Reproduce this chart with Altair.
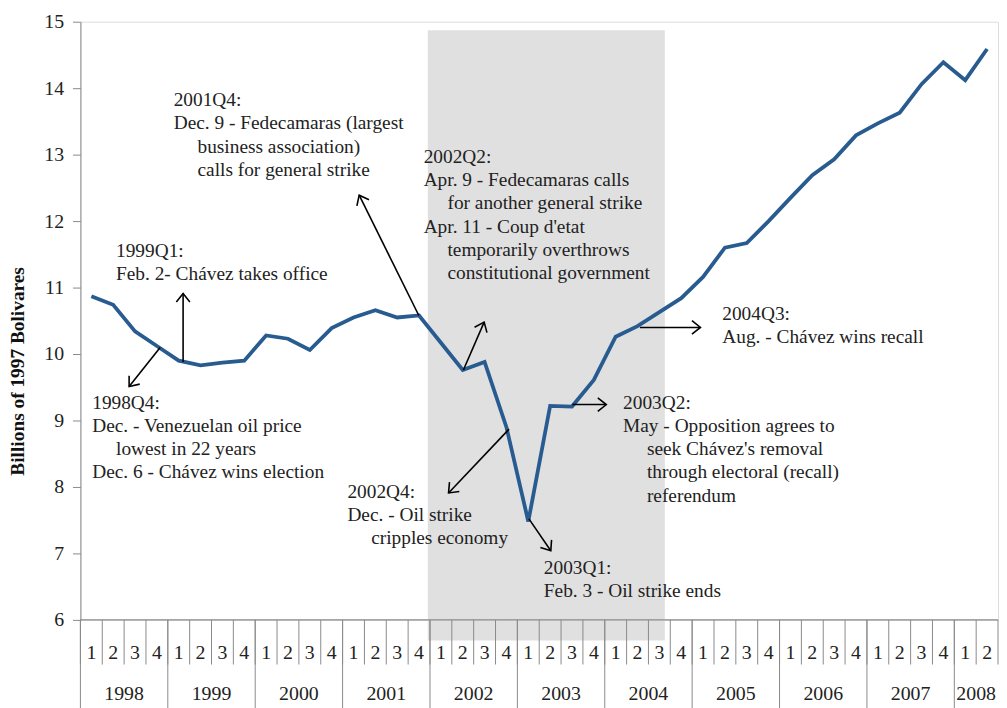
import math
import altair as alt
import pandas as pd

# ---------------- data ----------------
years = [1998, 1999, 2000, 2001, 2002, 2003, 2004, 2005, 2006, 2007, 2008]
quarters_per_year = [4, 4, 4, 4, 4, 4, 4, 4, 4, 4, 2]
quarter_labels = ["1", "2", "3", "4"] * 10 + ["1", "2"]
gdp = [10.87, 10.74, 10.34, 10.12, 9.90, 9.83, 9.87, 9.90,
       10.28, 10.23, 10.06, 10.39, 10.55, 10.66, 10.55, 10.58,
       10.17, 9.76, 9.88, 8.90, 7.48, 9.22, 9.21, 9.61,
       10.26, 10.42, 10.63, 10.84, 11.16, 11.60, 11.67, 12.00,
       12.35, 12.69, 12.93, 13.29, 13.47, 13.63, 14.06, 14.39,
       14.12, 14.59]

# shaded period (quarter-position units, value units)
shade_x = [15.9]
shade_x2 = [26.75]
shade_y = [5.69]
shade_y2 = [14.87]

# annotation arrows: start (on the line) -> tip
arrow_x = [3.65, 4.70, 15.49, 17.53, 19.62, 20.53, 22.52, 25.61]
arrow_y = [10.10, 9.88, 10.58, 9.76, 8.87, 7.52, 9.24, 10.40]
arrow_x2 = [2.23, 4.70, 12.76, 18.48, 16.85, 21.53, 24.07, 28.38]
arrow_y2 = [9.51, 10.91, 12.39, 10.48, 7.91, 7.04, 9.24, 10.40]

# annotation blocks: lines (leading ">" = indented line), anchor = first line baseline
ann_lines = [
    ["1999Q1:", "Feb. 2- Chávez takes office"],
    ["1998Q4:", "Dec. - Venezuelan oil price", ">lowest in 22 years", "Dec. 6 - Chávez wins election"],
    ["2001Q4:", "Dec. 9 - Fedecamaras (largest", ">business association)", ">calls for general strike"],
    ["2002Q2:", "Apr. 9 - Fedecamaras calls", ">for another general strike", "Apr. 11 - Coup d'etat",
     ">temporarily overthrows", ">constitutional government"],
    ["2004Q3:", "Aug. - Chávez wins recall"],
    ["2003Q2:", "May - Opposition agrees to", ">seek Chávez's removal",
     ">through electoral (recall)", ">referendum"],
    ["2002Q4:", "Dec. - Oil strike", ">cripples economy"],
    ["2003Q1:", "Feb. 3 - Oil strike ends"],
]
ann_x = [1.63, 0.54, 4.27, 15.71, 29.38, 24.84, 12.22, 21.21]
ann_y = [11.46, 9.18, 13.73, 12.88, 10.51, 9.18, 7.84, 6.69]

# ---------------- layout / style ----------------
W, H = 925, 603
NQ = len(gdp)
YMIN, YMAX = 6, 15
FONT = "Liberation Serif, Times New Roman, serif"
LINE_COLOR = "#285b90"
AX_COLOR = "#8a8a8a"
TXT = "#222222"
LINE_H = 23.5   # px between annotation lines
INDENT = 24     # px indent of continuation lines

xs = alt.Scale(domain=[0, NQ], nice=False, zero=False)
ys = alt.Scale(domain=[YMIN, YMAX], nice=False, zero=False)

series = pd.DataFrame({"pos": [i + 0.5 for i in range(NQ)], "gdp": gdp})
shade = pd.DataFrame({"x": shade_x, "x2": shade_x2, "y": shade_y, "y2": shade_y2})

sx = W / NQ
sy = H / (YMAX - YMIN)
angles = []
for a, b, c, d in zip(arrow_x, arrow_y, arrow_x2, arrow_y2):
    dx = (c - a) * sx
    dy = -(d - b) * sy
    angles.append(math.degrees(math.atan2(dx, -dy)) % 360)
arrows = pd.DataFrame({"x": arrow_x, "y": arrow_y, "x2": arrow_x2, "y2": arrow_y2, "ang": angles})

rows = []
for lines, bx, by in zip(ann_lines, ann_x, ann_y):
    for k, ln in enumerate(lines):
        ind = ln.startswith(">")
        rows.append({"x": bx, "y": by - k * LINE_H / sy, "t": ln.lstrip(">"), "ind": ind})
ann = pd.DataFrame(rows)
ann_plain = ann[~ann["ind"]]
ann_ind = ann[ann["ind"]]

q_sep = pd.DataFrame({"x": list(range(NQ + 1)), "y": [YMIN] * (NQ + 1)})
y_starts = [sum(quarters_per_year[:k]) for k in range(len(years))]
y_sep = pd.DataFrame({"x": y_starts, "y": [YMIN] * len(years)})
q_lab = pd.DataFrame({"x": [i + 0.5 for i in range(NQ)], "t": quarter_labels})
y_lab = pd.DataFrame({"x": [s + n / 2 for s, n in zip(y_starts, quarters_per_year)],
                      "t": [str(y) for y in years]})
base_line = pd.DataFrame({"x": [0], "x2": [NQ], "y": [YMIN]})

rect = alt.Chart(shade).mark_rect(color="#e0e0e0").encode(
    x=alt.X("x:Q", scale=xs, axis=None), x2="x2:Q",
    y=alt.Y("y:Q", scale=ys), y2="y2:Q")

qsep = alt.Chart(q_sep).mark_rule(color=AX_COLOR, strokeWidth=1).encode(
    x=alt.X("x:Q", scale=xs, axis=None), y=alt.Y("y:Q", scale=ys), y2=alt.value(H + 45))
ysep = alt.Chart(y_sep).mark_rule(color=AX_COLOR, strokeWidth=1).encode(
    x=alt.X("x:Q", scale=xs, axis=None), y=alt.Y("y:Q", scale=ys), y2=alt.value(H + 95))
bline = alt.Chart(base_line).mark_rule(color=AX_COLOR, strokeWidth=1.2).encode(
    x=alt.X("x:Q", scale=xs, axis=None), x2="x2:Q", y=alt.Y("y:Q", scale=ys))

qlab = alt.Chart(q_lab).mark_text(font=FONT, fontSize=20, color=TXT, baseline="middle").encode(
    x=alt.X("x:Q", scale=xs, axis=None), y=alt.value(H + 33), text="t:N")
ylab = alt.Chart(y_lab).mark_text(font=FONT, fontSize=20, color=TXT, baseline="middle").encode(
    x=alt.X("x:Q", scale=xs, axis=None), y=alt.value(H + 75), text="t:N")

line = alt.Chart(series).mark_line(color=LINE_COLOR, strokeWidth=3.8, strokeJoin="miter").encode(
    x=alt.X("pos:Q", scale=xs, axis=None),
    y=alt.Y("gdp:Q", scale=ys,
            axis=alt.Axis(values=list(range(YMIN, YMAX + 1)), format="d",
                          title="Billions of 1997 Bolivares",
                          grid=False, domainColor=AX_COLOR, tickColor=AX_COLOR, tickSize=8,
                          labelFont=FONT, labelFontSize=20, labelColor=TXT, labelPadding=9,
                          titleFont=FONT, titleFontSize=19.5, titleFontWeight="bold",
                          titleColor="#111111", titleX=-63, titleY=352,
                          titleBaseline="middle", titleAlign="center")))

arr = alt.Chart(arrows).mark_rule(color="#000000", strokeWidth=1.6).encode(
    x=alt.X("x:Q", scale=xs, axis=None), y=alt.Y("y:Q", scale=ys), x2="x2:Q", y2="y2:Q")
heads = alt.Chart(arrows).mark_point(
    shape="M-0.62,0.78L0,0L0.62,0.78", filled=False, color="#000000",
    strokeWidth=1.6, opacity=1, size=484).encode(
    x=alt.X("x2:Q", scale=xs, axis=None), y=alt.Y("y2:Q", scale=ys),
    angle=alt.Angle("ang:Q", scale=None))

txt_style = dict(font=FONT, fontSize=19.5, color=TXT, align="left", baseline="alphabetic")
txt1 = alt.Chart(ann_plain).mark_text(**txt_style).encode(
    x=alt.X("x:Q", scale=xs, axis=None), y=alt.Y("y:Q", scale=ys), text="t:N")
txt2 = alt.Chart(ann_ind).mark_text(dx=INDENT, **txt_style).encode(
    x=alt.X("x:Q", scale=xs, axis=None), y=alt.Y("y:Q", scale=ys), text="t:N")

chart = alt.layer(rect, qsep, ysep, bline, qlab, ylab, line, arr, heads, txt1, txt2).properties(
    width=W, height=H,
    autosize=alt.AutoSizeParams(type="none"),
    padding={"left": 73, "top": 11, "right": 1, "bottom": 86},
).configure_view(stroke=None).configure(background="white")

chart.save("out.html", embed_options={"renderer": "svg", "actions": False})
